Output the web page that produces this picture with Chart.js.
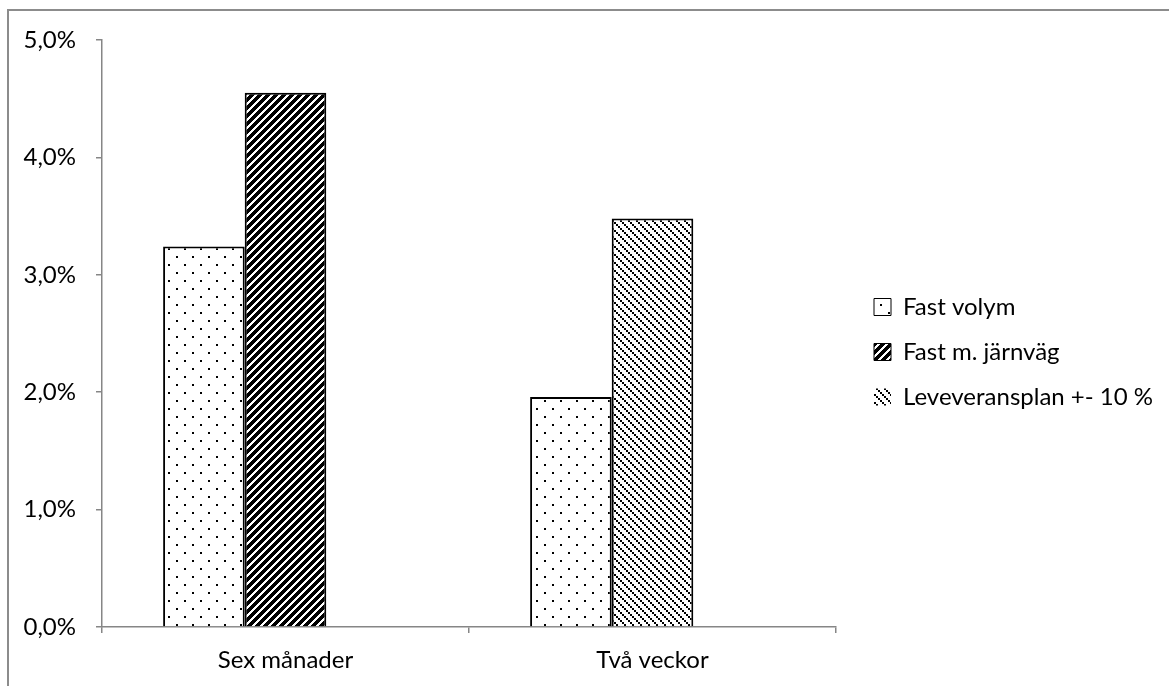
<!DOCTYPE html>
<html>
<head>
<meta charset="utf-8">
<script src="https://cdn.jsdelivr.net/npm/chart.js@4.4.1/dist/chart.umd.min.js"></script>
<style>
  html, body { margin: 0; padding: 0; background: #fff; }
  #wrap { position: relative; width: 1169px; height: 686px; overflow: hidden; }
  #frame { position: absolute; left: 7px; top: 9px; width: 1300px; height: 800px;
           border-left: 2px solid #8c8c8c; border-top: 2px solid #8c8c8c; }
  #c { position: absolute; left: 0; top: 0; }
</style>
</head>
<body>
<div id="wrap">
  <div id="frame"></div>
  <canvas id="c" width="1169" height="686"></canvas>
</div>
<script>
// Categories and series (values in percent)
const categories = ['Sex månader', 'Två veckor'];
const seriesNames = ['Fast volym', 'Fast m. järnväg', 'Leveveransplan +- 10 %'];
const fastVolym = [3.24, 1.96];
const fastJarnvag = [4.55, null];
const leveransplan = [null, 3.48];
const unusedSlot = [null, null];   // keeps the third bar position of each group free

// Value axis range
const yMin = 0;
const yMax = 5;
const yStep = 1;

const FONT = { family: 'Lato', size: 24 };
const AXIS_GREY = '#868686';

const canvas = document.getElementById('c');
const ctx = canvas.getContext('2d');

// Build a repeating monochrome fill from a pixel rule
function makePattern(size, isInk) {
  const tile = document.createElement('canvas');
  tile.width = size; tile.height = size;
  const g = tile.getContext('2d');
  g.fillStyle = '#fff';
  g.fillRect(0, 0, size, size);
  g.fillStyle = '#000';
  for (let y = 0; y < size; y++) {
    for (let x = 0; x < size; x++) {
      if (isInk(x, y)) g.fillRect(x, y, 1, 1);
    }
  }
  return ctx.createPattern(tile, 'repeat');
}

// sparse dots
const dotFill = makePattern(16, (x, y) =>
  (x < 2 && y < 2) || (x >= 8 && x < 10 && y >= 8 && y < 10));
// dark upward diagonal (heavy black bands)
const upFill = makePattern(8, (x, y) => ((x + y) % 8) < 5);
// light downward diagonal
const downFill = makePattern(8, (x, y) =>
  ((((Math.floor(x / 2) - Math.floor(y / 2)) % 4) + 4) % 4) === 0);

const barCommon = {
  borderColor: '#000',
  borderWidth: 2,
  categoryPercentage: 0.667,
  barPercentage: 1
};

// Places the legend block to the right of the plot
const legendPlacement = {
  id: 'legendPlacement',
  afterLayout(chart) {
    const lg = chart.legend;
    const pad = lg.options.labels.padding;
    lg.left = 874 - pad;
    lg.top = 295 - pad;
    lg.right = chart.width;
    lg.bottom = chart.height;
    lg.width = lg.right - lg.left;
    lg.height = lg.bottom - lg.top;
  }
};

function draw() {
  new Chart(ctx, {
    type: 'bar',
    data: {
      labels: categories,
      datasets: [
        Object.assign({ label: seriesNames[0], data: fastVolym, stack: 'g1', backgroundColor: dotFill }, barCommon),
        Object.assign({ label: seriesNames[1], data: fastJarnvag, stack: 'g2', backgroundColor: upFill }, barCommon),
        Object.assign({ label: seriesNames[2], data: leveransplan, stack: 'g2', backgroundColor: downFill }, barCommon),
        Object.assign({ label: '', data: unusedSlot, stack: 'g3', backgroundColor: '#fff' }, barCommon)
      ]
    },
    options: {
      responsive: false,
      animation: false,
      devicePixelRatio: 1,
      layout: { padding: { left: 0, top: 40, right: 333, bottom: 0 } },
      plugins: {
        tooltip: { enabled: false },
        legend: {
          position: 'chartArea',
          align: 'start',
          labels: {
            boxWidth: 17,
            boxHeight: 17,
            padding: 21,
            color: '#000',
            font: FONT,
            generateLabels(chart) {
              return chart.data.datasets.slice(0, 3).map((ds, i) => ({
                text: ds.label,
                fillStyle: ds.backgroundColor,
                strokeStyle: '#000',
                lineWidth: i === 2 ? 0 : 1,
                hidden: false,
                datasetIndex: i
              }));
            }
          }
        }
      },
      scales: {
        x: {
          grid: { offset: true, drawOnChartArea: false, tickLength: 6, color: AXIS_GREY, lineWidth: 1.5 },
          border: { color: AXIS_GREY, width: 1.5 },
          ticks: { color: '#000', font: FONT, padding: 13 },
          afterFit(scale) { scale.height = 59; }
        },
        y: {
          stacked: false,
          min: yMin,
          max: yMax,
          grid: { drawOnChartArea: false, tickLength: 6, color: AXIS_GREY, lineWidth: 1.5 },
          border: { color: AXIS_GREY, width: 1.5 },
          ticks: {
            stepSize: yStep,
            color: '#000',
            font: FONT,
            padding: 20,
            callback: (v) => v.toFixed(1).replace('.', ',') + '%'
          },
          afterFit(scale) { scale.width = 102; }
        }
      }
    },
    plugins: [legendPlacement]
  });
}

if (document.fonts && document.fonts.load) {
  document.fonts.load('24px Lato').then(draw, draw);
} else {
  draw();
}
</script>
</body>
</html>
